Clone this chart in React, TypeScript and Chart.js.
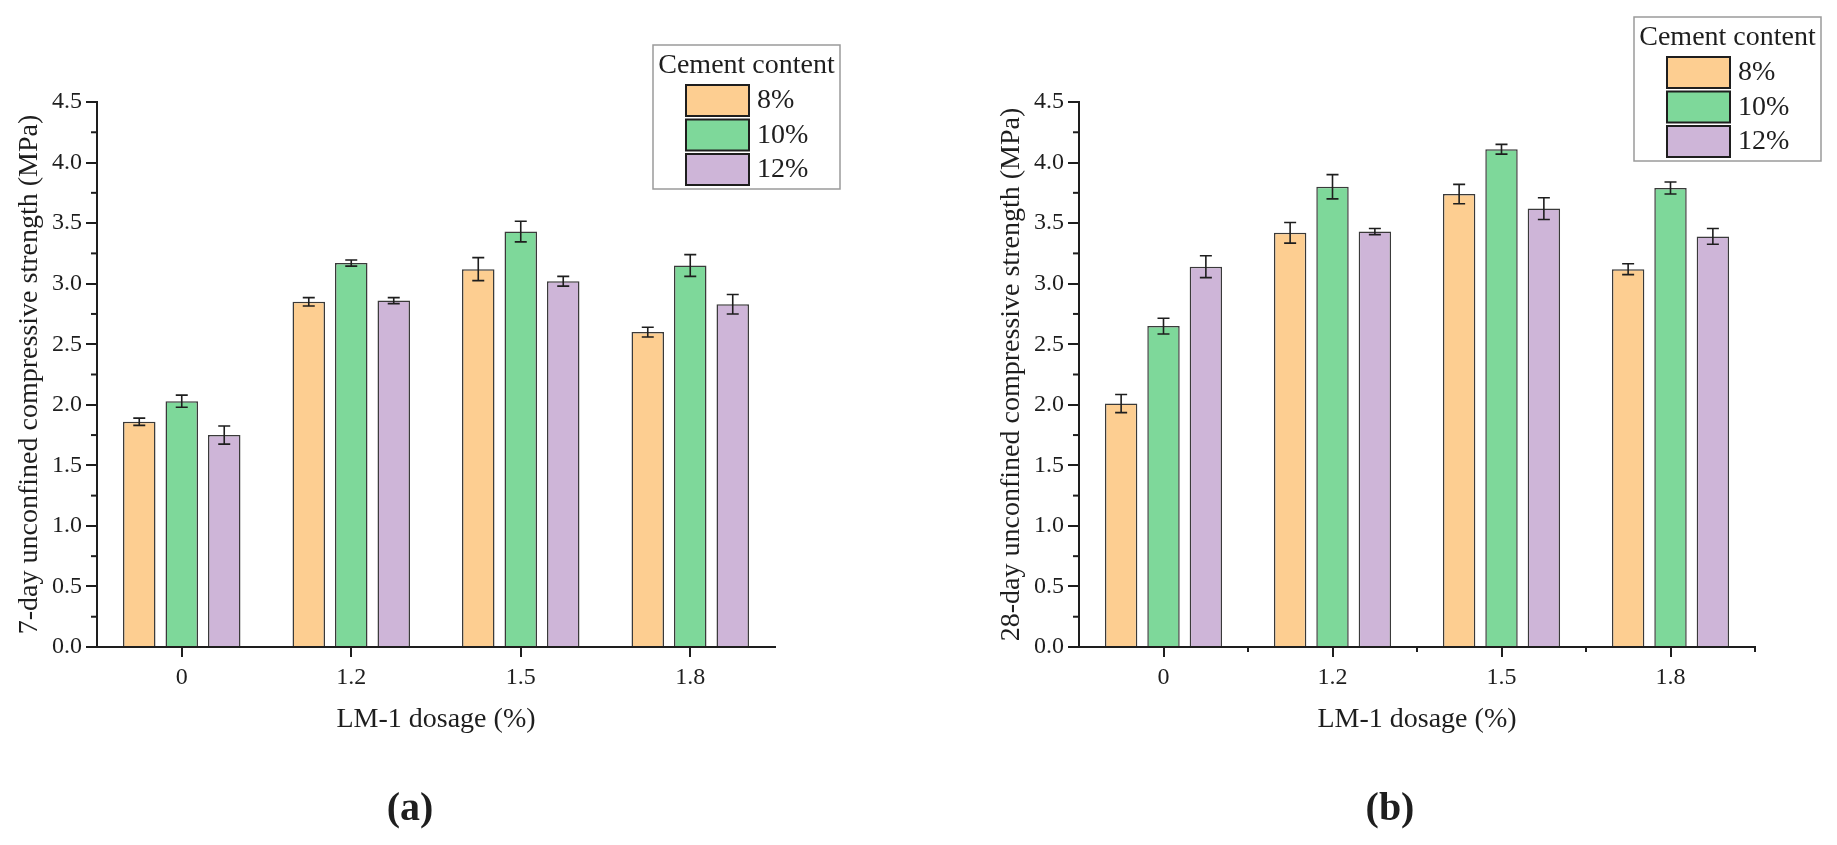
import React, { useRef, useEffect } from 'react';
import { Chart, registerables } from 'chart.js';

Chart.register(...registerables);

// LM-1 dosage categories and cement contents
const dosages = ['0', '1.2', '1.5', '1.8'];
const cementLabels = ['8%', '10%', '12%'];
const barColors = ['#FDCE91', '#7ED89A', '#CEB5D8'];

// 7-day strength (MPa) and error
const day7_c8 = [1.86, 2.85, 3.12, 2.60];
const day7_c10 = [2.03, 3.17, 3.43, 3.15];
const day7_c12 = [1.75, 2.86, 3.02, 2.83];
const day7Err_c8 = [0.03, 0.035, 0.095, 0.04];
const day7Err_c10 = [0.05, 0.025, 0.085, 0.09];
const day7Err_c12 = [0.075, 0.025, 0.04, 0.08];

// 28-day strength (MPa) and error
const day28_c8 = [2.01, 3.42, 3.74, 3.12];
const day28_c10 = [2.65, 3.80, 4.11, 3.79];
const day28_c12 = [3.14, 3.43, 3.62, 3.39];
const day28Err_c8 = [0.075, 0.085, 0.08, 0.045];
const day28Err_c10 = [0.065, 0.10, 0.04, 0.05];
const day28Err_c12 = [0.09, 0.025, 0.09, 0.065];

const yTicks = [0, 0.5, 1.0, 1.5, 2.0, 2.5, 3.0, 3.5, 4.0, 4.5];

const FONT = "'Liberation Serif', 'Times New Roman', serif";
const INK = '#1e1e1e';

const errorBarPlugin = {
  id: 'errorBars',
  afterDatasetsDraw(chart: any) {
    const { ctx } = chart;
    const yScale = chart.scales.y;
    ctx.save();
    ctx.strokeStyle = INK;
    ctx.lineWidth = 1.6;
    chart.data.datasets.forEach((ds: any, i: number) => {
      const meta = chart.getDatasetMeta(i);
      meta.data.forEach((bar: any, j: number) => {
        const v = ds.data[j];
        const e = ds.errors[j];
        const yHi = yScale.getPixelForValue(v + e);
        const yLo = yScale.getPixelForValue(v - e);
        const cap = 6;
        ctx.beginPath();
        ctx.moveTo(bar.x, yHi);
        ctx.lineTo(bar.x, yLo);
        ctx.moveTo(bar.x - cap, yHi);
        ctx.lineTo(bar.x + cap, yHi);
        ctx.moveTo(bar.x - cap, yLo);
        ctx.lineTo(bar.x + cap, yLo);
        ctx.stroke();
      });
    });
    ctx.restore();
  },
};

const extraTicksPlugin = {
  id: 'extraTicks',
  afterDraw(chart: any, _args: any, opts: any) {
    const { ctx, chartArea } = chart;
    const y = chart.scales.y;
    const x = chart.scales.x;
    ctx.save();
    ctx.strokeStyle = INK;
    ctx.lineWidth = 2;
    // minor y ticks between labelled ticks
    for (let k = 0; k < yTicks.length - 1; k++) {
      const py = y.getPixelForValue((yTicks[k] + yTicks[k + 1]) / 2);
      ctx.beginPath();
      ctx.moveTo(chartArea.left - 6, py);
      ctx.lineTo(chartArea.left, py);
      ctx.stroke();
    }
    if (opts.boundaries) {
      const n = x.getLabels().length;
      for (let k = 0; k < n; k++) {
        const px = k < n - 1
          ? (x.getPixelForTick(k) + x.getPixelForTick(k + 1)) / 2
          : chartArea.right;
        ctx.beginPath();
        ctx.moveTo(px, chartArea.bottom);
        ctx.lineTo(px, chartArea.bottom + 5);
        ctx.stroke();
      }
    }
    ctx.restore();
  },
};

const boxLegendPlugin = {
  id: 'boxLegend',
  afterDraw(chart: any, _args: any, opts: any) {
    const { ctx } = chart;
    const { left, top, width, height } = opts;
    ctx.save();
    ctx.fillStyle = '#fff';
    ctx.fillRect(left, top, width, height);
    ctx.strokeStyle = '#9a9a9a';
    ctx.lineWidth = 1.5;
    ctx.strokeRect(left, top, width, height);
    ctx.fillStyle = INK;
    ctx.font = `28px ${FONT}`;
    ctx.textAlign = 'center';
    ctx.textBaseline = 'middle';
    ctx.fillText(opts.title, left + width / 2, top + 21);
    ctx.textAlign = 'left';
    chart.data.datasets.forEach((ds: any, i: number) => {
      const sy = top + 40 + i * 34.5;
      ctx.fillStyle = ds.backgroundColor;
      ctx.fillRect(left + 33, sy, 63, 31);
      ctx.strokeStyle = INK;
      ctx.lineWidth = 2;
      ctx.strokeRect(left + 33, sy, 63, 31);
      ctx.fillStyle = INK;
      ctx.fillText(ds.label, left + 104, sy + 16);
    });
    ctx.restore();
  },
};

type PanelProps = {
  series: number[][];
  errors: number[][];
  yTitle: string;
  padLeft: number;
  padRight: number;
  legendBox: { left: number; top: number; width: number; height: number };
  boundaries: boolean;
  width: number;
};

const Panel = ({ series, errors, yTitle, padLeft, padRight, legendBox, boundaries, width }: PanelProps) => {
  const canvasRef = useRef<HTMLCanvasElement>(null);

  useEffect(() => {
    const ctx = canvasRef.current?.getContext('2d');
    if (!ctx) return;

    const chart = new Chart(ctx, {
      type: 'bar',
      data: {
        labels: dosages,
        datasets: series.map((data, i) => ({
          label: cementLabels[i],
          data,
          errors: errors[i],
          backgroundColor: barColors[i],
          borderColor: '#3a3a3a',
          borderWidth: 1.5,
          categoryPercentage: 0.752,
          barPercentage: 0.765,
        })) as any,
      },
      options: {
        animation: false,
        responsive: false,
        devicePixelRatio: 1,
        layout: { padding: { left: padLeft, right: padRight, top: 102, bottom: 109 } },
        plugins: {
          legend: { display: false },
          tooltip: { enabled: false },
          extraTicks: { boundaries },
          boxLegend: { ...legendBox, title: 'Cement content' },
        } as any,
        scales: {
          x: {
            offset: true,
            grid: { offset: false, drawOnChartArea: false, tickLength: 10, color: INK, lineWidth: 2 },
            border: { color: INK, width: 2 },
            ticks: { color: INK, font: { family: FONT, size: 24 }, padding: 6 },
            title: {
              display: true,
              text: 'LM-1 dosage (%)',
              color: INK,
              font: { family: FONT, size: 28 },
              padding: { top: 0, bottom: 0 },
            },
            afterFit: (s: any) => { s.height = 89; },
          },
          y: {
            min: 0,
            max: 4.5,
            afterBuildTicks: (s: any) => { s.ticks = yTicks.map((value) => ({ value })); },
            ticks: {
              color: INK,
              font: { family: FONT, size: 24 },
              padding: 4,
              callback: (v: any) => Number(v).toFixed(1),
            },
            grid: { drawOnChartArea: false, tickLength: 11, color: INK, lineWidth: 2 },
            border: { color: INK, width: 2 },
            title: {
              display: true,
              text: yTitle,
              color: INK,
              font: { family: FONT, size: 28 },
              padding: { top: 13, bottom: 0 },
            },
            afterFit: (s: any) => { s.width = 97; },
          },
        },
      },
      plugins: [errorBarPlugin, extraTicksPlugin, boxLegendPlugin],
    });

    return () => chart.destroy();
  }, []);

  return <canvas ref={canvasRef} width={width} height={845} />;
};

const panelLabel = (text: string, x: number): React.CSSProperties => ({
  position: 'absolute',
  left: x,
  top: 807,
  transform: 'translate(-50%, -50%)',
  fontFamily: FONT,
  fontWeight: 'bold',
  fontSize: 40,
  color: INK,
  lineHeight: 1,
});

export default function App() {
  return (
    <div style={{ position: 'fixed', left: 0, top: 0, width: 1837, height: 845, background: '#fff' }}>
      <div style={{ position: 'absolute', left: 0, top: 0 }}>
        <Panel
          series={[day7_c8, day7_c10, day7_c12]}
          errors={[day7Err_c8, day7Err_c10, day7Err_c12]}
          yTitle="7-day unconfined compressive strength (MPa)"
          padLeft={0}
          padRight={143}
          legendBox={{ left: 653, top: 45, width: 187, height: 144 }}
          boundaries={false}
          width={918}
        />
      </div>
      <div style={{ position: 'absolute', left: 918, top: 0 }}>
        <Panel
          series={[day28_c8, day28_c10, day28_c12]}
          errors={[day28Err_c8, day28Err_c10, day28Err_c12]}
          yTitle="28-day unconfined compressive strength (MPa)"
          padLeft={64}
          padRight={82}
          legendBox={{ left: 716, top: 17, width: 187, height: 144 }}
          boundaries={true}
          width={919}
        />
      </div>
      <div style={panelLabel('(a)', 410)}>(a)</div>
      <div style={panelLabel('(b)', 1390)}>(b)</div>
    </div>
  );
}
